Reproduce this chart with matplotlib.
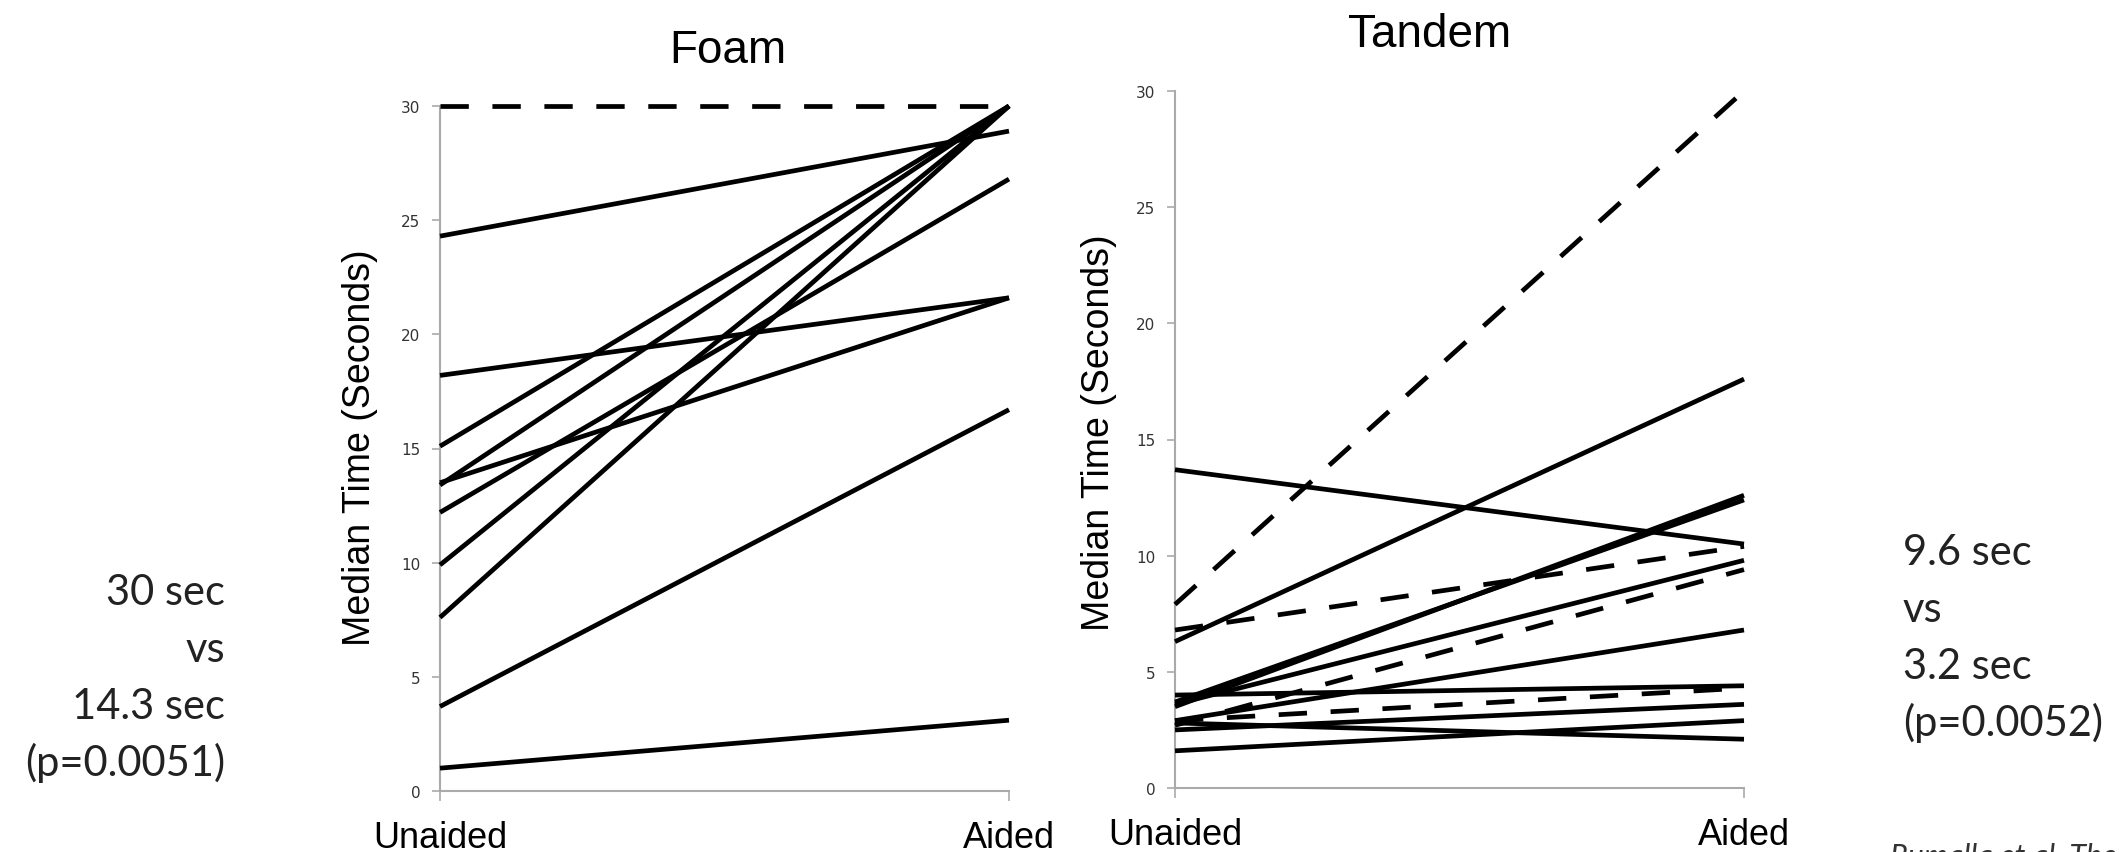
import matplotlib
matplotlib.use("Agg")
import matplotlib.pyplot as plt

# values (seconds)
conditions = ["Unaided", "Aided"]
yticks = [0, 5, 10, 15, 20, 25, 30]

foam_unaided = [30, 24.3, 18.2, 15.1, 13.5, 13.4, 12.2, 9.9, 7.6, 3.7, 1.0]
foam_aided = [30, 28.9, 21.6, 30, 21.6, 30, 26.8, 30, 30, 16.7, 3.1]
foam_dashed = [True] + [False] * 10

tandem_unaided = [7.9, 6.8, 2.7, 2.9, 13.7, 6.3, 3.5, 3.7, 3.6, 2.9, 4.0, 2.5, 1.6, 2.8]
tandem_aided = [30, 10.4, 9.4, 4.3, 10.5, 17.6, 12.6, 12.4, 9.8, 6.8, 4.4, 3.6, 2.9, 2.1]
tandem_dashed = [True] * 4 + [False] * 10

foam_note = ["30 sec", "vs", "14.3 sec", "(p=0.0051)"]
tandem_note = ["9.6 sec", "vs", "3.2 sec", "(p=0.0052)"]
credit = "Rumalla et al. The Laryngoscope"

W, H = 2123, 853
fig = plt.figure(figsize=(W / 100, H / 100), dpi=100)
fig.patch.set_facecolor("white")

chart_font = "Liberation Sans"
note_font = "Lato"


def px_axes(x0, x1, y_top, y_bot):
    return fig.add_axes([x0 / W, 1 - y_bot / H, (x1 - x0) / W, (y_bot - y_top) / H])


def draw_panel(ax, unaided, aided, dashed):
    for u, a, d in zip(unaided, aided, dashed):
        ls = (0, (6, 5)) if d else "-"
        ax.plot([0, 1], [u, a], color="black", lw=3.4, ls=ls,
                solid_capstyle="butt", dash_capstyle="butt", clip_on=False, zorder=3)
    ax.set_xlim(0, 1)
    ax.set_ylim(0, 30)
    ax.set_yticks(yticks)
    ax.set_yticklabels([str(t) for t in yticks], fontsize=11, color="#333333",
                       family="DejaVu Sans")
    ax.set_xticks([0, 1])
    ax.set_xticklabels(conditions, fontsize=26, family=chart_font)
    for s in ["top", "right"]:
        ax.spines[s].set_visible(False)
    for s in ["left", "bottom"]:
        ax.spines[s].set_color("#aaaaaa")
        ax.spines[s].set_linewidth(1.5)
    ax.tick_params(axis="y", length=6, width=1.2, color="#aaaaaa", pad=8)
    ax.tick_params(axis="x", length=7, width=1.2, color="#aaaaaa", pad=14)


ax1 = px_axes(440, 1009, 107, 792)
draw_panel(ax1, foam_unaided, foam_aided, foam_dashed)
ax2 = px_axes(1175, 1744, 92, 789)
draw_panel(ax2, tandem_unaided, tandem_aided, tandem_dashed)

# titles and axis labels
fig.text(728 / W, 1 - 63 / H, "Foam", fontsize=33, family=chart_font,
         ha="center", va="baseline")
fig.text(1430 / W, 1 - 47 / H, "Tandem", fontsize=33, family=chart_font,
         ha="center", va="baseline")
fig.text(360 / W, 1 - 448 / H, "Median Time (Seconds)", fontsize=27,
         family=chart_font, rotation=90, ha="center", va="center")
fig.text(1099 / W, 1 - 433 / H, "Median Time (Seconds)", fontsize=27,
         family=chart_font, rotation=90, ha="center", va="center")

# side notes
for i, line in enumerate(foam_note):
    fig.text(225 / W, 1 - (605 + 57 * i) / H, line, fontsize=30, family=note_font,
             color="#222222", ha="right", va="baseline")
for i, line in enumerate(tandem_note):
    fig.text(1903 / W, 1 - (565 + 57 * i) / H, line, fontsize=30, family=note_font,
             color="#222222", ha="left", va="baseline")

fig.text(1890 / W, 1 - 843 / H, credit, fontsize=22, family=note_font,
         style="italic", color="#333333", ha="left", va="top")

fig.savefig("out.png", dpi=100, facecolor="white")
